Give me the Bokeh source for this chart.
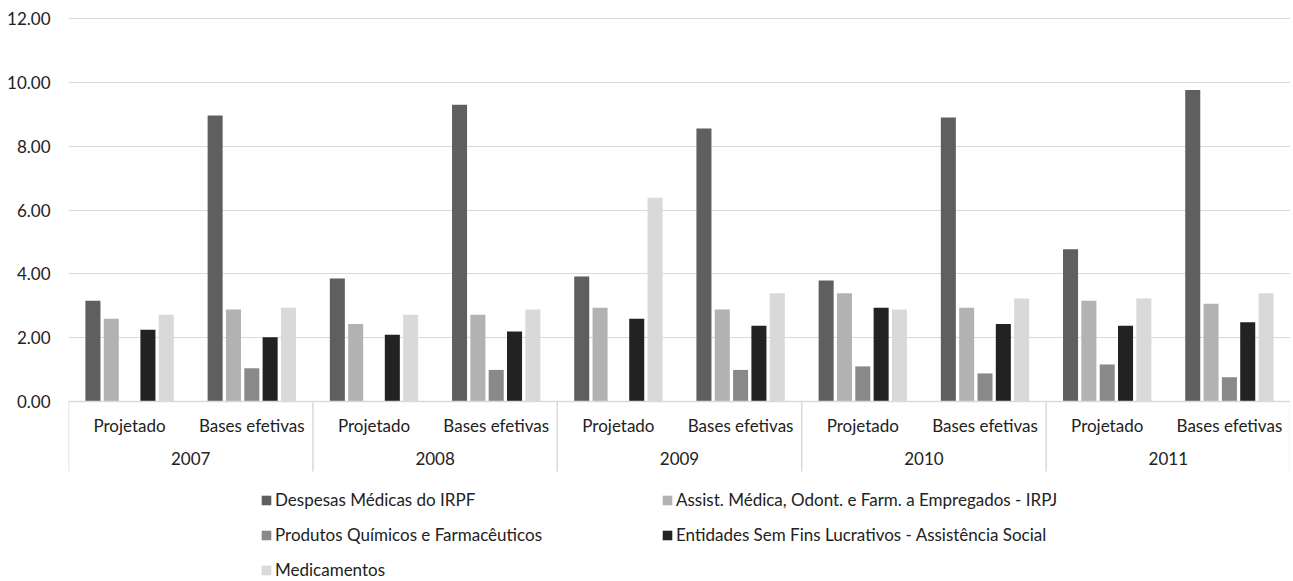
from bokeh.plotting import figure
from bokeh.models import (FactorRange, Range1d, ColumnDataSource, Legend, LegendItem,
                          NumeralTickFormatter, FixedTicker, CategoricalAxis)
from bokeh.transform import dodge
from bokeh.embed import file_html
from bokeh.resources import INLINE

years = ["2007", "2008", "2009", "2010", "2011"]
groups = ["Projetado", "Bases efetivas"]

series_names = [
    "Despesas Médicas do IRPF",
    "Assist. Médica, Odont. e Farm. a Empregados - IRPJ",
    "Produtos Químicos e Farmacêuticos",
    "Entidades Sem Fins Lucrativos - Assistência Social",
    "Medicamentos",
]
despesas = [3.16, 8.96, 3.85, 9.30, 3.92, 8.55, 3.79, 8.90, 4.77, 9.76]
assist = [2.59, 2.88, 2.43, 2.72, 2.94, 2.88, 3.39, 2.94, 3.16, 3.06]
produtos = [float("nan"), 1.04, float("nan"), 0.99, float("nan"), 0.99, 1.10, 0.88, 1.16, 0.76]
entidades = [2.25, 2.01, 2.09, 2.19, 2.59, 2.37, 2.94, 2.43, 2.37, 2.48]
medicamentos = [2.72, 2.94, 2.72, 2.88, 6.38, 3.39, 2.88, 3.23, 3.23, 3.39]
colors = ["#5f5f5f", "#b2b2b2", "#898989", "#222222", "#d9d9d9"]
y_ticks = [0, 2, 4, 6, 8, 10, 12]

factors = [(y, g) for y in years for g in groups]
src = ColumnDataSource(dict(x=factors, s0=despesas, s1=assist, s2=produtos, s3=entidades, s4=medicamentos))

FONT = "Lato"
TXT = "#222222"
GRID = "#d9d9d9"

# layout: 0 at 385 px below frame top, 12 at 2 px below it; frame reaches figure bottom
PX_PER_UNIT = 383 / 12.0
FRAME_H = 564
y_top = 12 + 2 / PX_PER_UNIT
y_bot = y_top - FRAME_H / PX_PER_UNIT

p = figure(
    x_range=FactorRange(*factors, range_padding=0, group_padding=0, factor_padding=0),
    y_range=Range1d(y_bot, y_top),
    frame_width=1222, frame_height=FRAME_H,
    min_border_left=68, min_border_right=0, min_border_top=16, min_border_bottom=0,
    x_axis_location=None,
    output_backend="svg", toolbar_location=None,
)
p.outline_line_color = None
p.xgrid.grid_line_color = None
p.ygrid.grid_line_color = GRID
p.ygrid.grid_line_width = 1

p.yaxis.ticker = FixedTicker(ticks=y_ticks)
p.yaxis.formatter = NumeralTickFormatter(format="0.00")
p.yaxis.axis_line_color = None
p.yaxis.major_tick_line_color = None
p.yaxis.major_tick_out = 0
p.yaxis.major_tick_in = 0
p.yaxis.minor_tick_line_color = None
p.yaxis.major_label_text_font = FONT
p.yaxis.major_label_text_font_size = "17px"
p.yaxis.major_label_text_color = TXT
p.yaxis.major_label_standoff = 18

xa = CategoricalAxis(fixed_location=0)
xa.axis_line_color = GRID
xa.axis_line_width = 1.5
xa.major_tick_line_color = None
xa.minor_tick_line_color = None
xa.major_tick_in = 0
xa.major_tick_out = 0
xa.major_label_text_font = FONT
xa.major_label_text_font_size = "17px"
xa.major_label_text_color = TXT
xa.major_label_standoff = 13
xa.group_text_font = FONT
xa.group_text_font_size = "17px"
xa.group_text_font_style = "normal"
xa.group_text_color = TXT
xa.separator_line_color = None
p.add_layout(xa, "below")

# year separators below the axis (left edges of each year, plus right edge)
sep_len = 70 / PX_PER_UNIT
sep_left = ColumnDataSource(dict(x=[(y, groups[0]) for y in years]))
sep_right = ColumnDataSource(dict(x=[(years[-1], groups[-1])]))
p.segment(x0=dodge("x", -0.5, range=p.x_range), x1=dodge("x", -0.5, range=p.x_range),
          y0=0, y1=-sep_len, source=sep_left, line_color=GRID, line_width=1.5)
p.segment(x0=dodge("x", 0.5, range=p.x_range), x1=dodge("x", 0.5, range=p.x_range),
          y0=0, y1=-sep_len, source=sep_right, line_color=GRID, line_width=1.5)

arrays = ["s0", "s1", "s2", "s3", "s4"]
offsets = [-0.3, -0.15, 0.0, 0.15, 0.3]
renderers = []
for col, off, c in zip(arrays, offsets, colors):
    r = p.vbar(x=dodge("x", off, range=p.x_range), top=col, width=0.123, source=src,
               fill_color=c, line_color=None)
    renderers.append(r)

items = [LegendItem(label=n, renderers=[r]) for n, r in zip(series_names, renderers)]
legend = Legend(items=items, orientation="horizontal", ncols=2, location=(192, 0),
                padding=0, margin=0, border_line_color=None, background_fill_alpha=0,
                glyph_width=12, glyph_height=12, label_standoff=3, label_width=372,
                label_height=20, spacing=14,
                label_text_font=FONT, label_text_font_size="17px", label_text_color=TXT)
p.add_layout(legend, "center")

open("out.html", "w").write(file_html(p, INLINE))
